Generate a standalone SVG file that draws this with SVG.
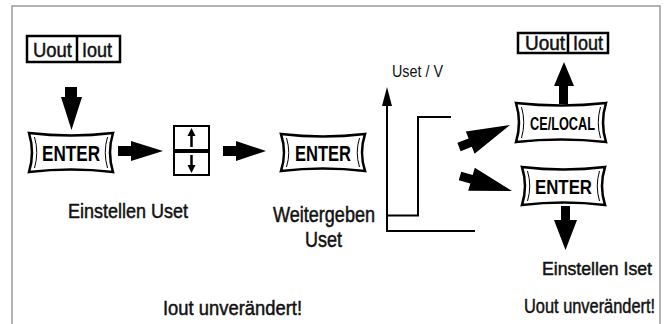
<svg xmlns="http://www.w3.org/2000/svg" width="669" height="324" viewBox="0 0 669 324">
<style>
.frame{fill:none;stroke:#9a9a9a;stroke-width:1.5}
.btn{fill:#fff;stroke:#000;stroke-width:2.5;stroke-linejoin:miter}
.inner{fill:none;stroke:#000;stroke-width:1}
.box{fill:#fff;stroke:#000;stroke-width:2.5}
.bt{font-family:"Liberation Sans",Arial,sans-serif;font-weight:bold;fill:#000;text-anchor:middle}
.lbl{font-family:"Liberation Sans",Arial,sans-serif;fill:#111;stroke:#111;stroke-width:0.5}
.thin{font-family:"Liberation Sans",Arial,sans-serif;fill:#111}
.ln{fill:none;stroke:#000;stroke-width:2}
.ar{fill:#000}
</style>
<rect width="669" height="324" fill="#fff"/>
<path class="frame" d="M12,324 V6 H660 V324"/>

<g id="display1">
<rect class="box" x="27" y="36" width="93" height="26"/>
<line x1="77" y1="36" x2="77" y2="62" stroke="#000" stroke-width="2.5"/>
<text class="lbl" x="33" y="57" font-size="21" textLength="39" lengthAdjust="spacingAndGlyphs">Uout</text>
<text class="lbl" x="82" y="57" font-size="21" textLength="30" lengthAdjust="spacingAndGlyphs">Iout</text>
</g>

<g id="enter1">
<path class="btn" d="M29,133 Q71,138 113,133 Q107,152.5 113,172 Q71,167 29,172 Q35,152.5 29,133 Z"/>
<path class="inner" d="M34.5,137 Q39,152.5 34.5,168 M107.5,137 Q103,152.5 107.5,168"/>
<text class="bt" x="71" y="160.5" font-size="22.5" textLength="58" lengthAdjust="spacingAndGlyphs">ENTER</text>
</g>

<g id="updown">
<rect x="174" y="126" width="35" height="24" fill="#fff" stroke="#000" stroke-width="2"/>
<rect x="174" y="152" width="35" height="23" fill="#fff" stroke="#000" stroke-width="2"/>
<line x1="191.5" y1="134" x2="191.5" y2="147" stroke="#000" stroke-width="2.5"/>
<polygon class="ar" points="191.5,128 187.5,136 195.5,136"/>
<line x1="191.5" y1="155" x2="191.5" y2="167" stroke="#000" stroke-width="2.5"/>
<polygon class="ar" points="191.5,173 187.5,165 195.5,165"/>
</g>

<g id="enter2">
<path class="btn" d="M281,134 Q323,139 365,134 Q359,152.5 365,171 Q323,166 281,171 Q287,152.5 281,134 Z"/>
<path class="inner" d="M286.5,138 Q291,152.5 286.5,167 M359.5,138 Q355,152.5 359.5,167"/>
<text class="bt" x="323" y="160.5" font-size="22.5" textLength="56" lengthAdjust="spacingAndGlyphs">ENTER</text>
</g>

<g id="celocal">
<path class="btn" d="M516,103 Q561,108 606,103 Q600,122.5 606,142 Q561,137 516,142 Q522,122.5 516,103 Z"/>
<path class="inner" d="M521.5,107 Q526,122.5 521.5,138 M600.5,107 Q596,122.5 600.5,138"/>
<text class="bt" x="562.5" y="130" font-size="18" textLength="65" lengthAdjust="spacingAndGlyphs">CE/LOCAL</text>
</g>

<g id="enter3">
<path class="btn" d="M522,167 Q563.5,172 605,167 Q599,186 605,205 Q563.5,200 522,205 Q528,186 522,167 Z"/>
<path class="inner" d="M527.5,171 Q532,186 527.5,201 M599.5,171 Q595,186 599.5,201"/>
<text class="bt" x="563.5" y="193.5" font-size="21" textLength="57" lengthAdjust="spacingAndGlyphs">ENTER</text>
</g>

<g id="display2">
<rect class="box" x="518" y="33" width="90" height="20"/>
<line x1="568" y1="33" x2="568" y2="53" stroke="#000" stroke-width="2.5"/>
<text class="lbl" x="525" y="49.5" font-size="19.5" textLength="40" lengthAdjust="spacingAndGlyphs">Uout</text>
<text class="lbl" x="573" y="49.5" font-size="19.5" textLength="30" lengthAdjust="spacingAndGlyphs">Iout</text>
</g>

<g id="graph">
<line class="ln" x1="387" y1="232" x2="387" y2="100"/>
<polygon class="ar" points="387,87 382,106 392,106"/>
<path class="ln" d="M386,231 H475"/>
<path class="ln" d="M387,215.5 H418 V117 H451"/>
<text class="thin" x="392" y="77" font-size="16" textLength="51" lengthAdjust="spacingAndGlyphs">Uset / V</text>
</g>

<g id="connectors">
<polygon class="ar" points="65,87 77,87 77,97 82,97 71.5,130 61,97 65,97"/>
<polygon class="ar" points="118,146 131,146 131,141 163,151 131,161 131,156 118,156"/>
<polygon class="ar" points="223,146 236,146 236,141 266,151 236,161 236,156 223,156"/>
<polygon class="ar" points="457.4,142.8 468.6,138.4 465.8,131.4 510,125 474.6,153.8 471.8,146.8 460.6,151.2"/>
<polygon class="ar" points="461.25,171.7 472.7,175 474.8,167.8 512,191 468.2,190.8 470.3,183.6 458.75,180.3"/>
<polygon class="ar" points="559,104 568,104 568,86 574,86 564,62 554,86 559,86"/>
<polygon class="ar" points="561,206 570,206 570,220 577,220 565.5,250 554,220 561,220"/>
</g>

<g id="labels">
<text class="lbl" x="68" y="218" font-size="21" textLength="120" lengthAdjust="spacingAndGlyphs">Einstellen Uset</text>
<text class="lbl" x="273" y="222" font-size="22" textLength="102" lengthAdjust="spacingAndGlyphs">Weitergeben</text>
<text class="lbl" x="305" y="247" font-size="22" textLength="37" lengthAdjust="spacingAndGlyphs">Uset</text>
<text class="lbl" x="542" y="275" font-size="19" textLength="110" lengthAdjust="spacingAndGlyphs">Einstellen Iset</text>
<text class="lbl" transform="translate(524,313) scale(0.78,1)" x="0" y="0" font-size="21">Uout unverändert!</text>
<text class="lbl" x="163" y="315" font-size="21" textLength="139" lengthAdjust="spacingAndGlyphs">Iout unverändert!</text>
</g>
</svg>
